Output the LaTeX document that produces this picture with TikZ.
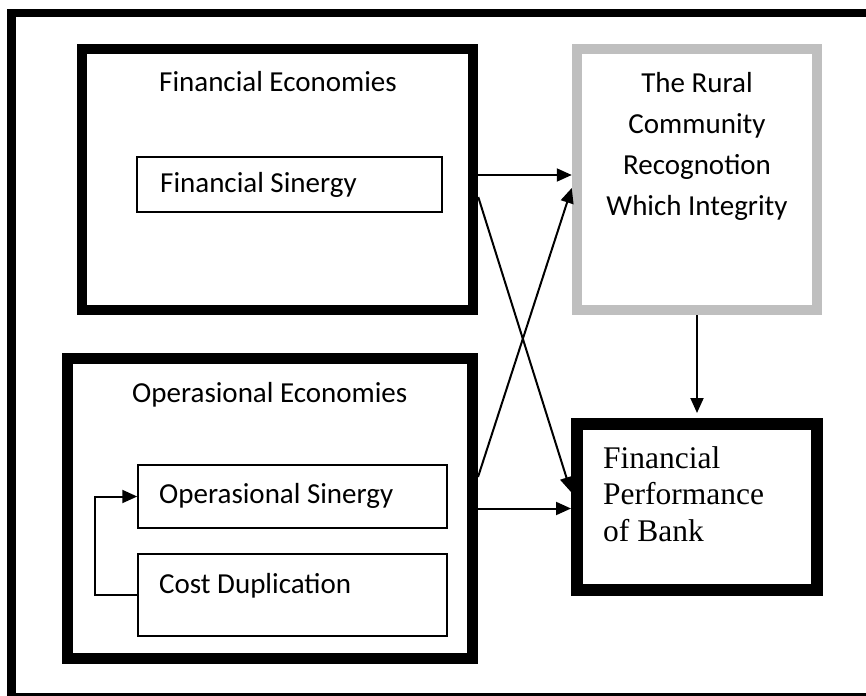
\documentclass[tikz,border=0pt]{standalone}
\usepackage{fontspec}
\setmainfont{Carlito}
\newfontfamily\serifbank{Liberation Serif}
\usetikzlibrary{arrows.meta}
\definecolor{boxgray}{RGB}{191,191,191}

\begin{document}
\begin{tikzpicture}[x=1pt,y=-1pt,
    link/.style={-{Triangle[length=15pt,width=13pt]},line width=2pt},
    block/.style={draw=black,line width=10.5pt,inner sep=0pt},
    item/.style={draw=black,line width=1.5pt,inner sep=0pt},
    txt/.style={inner sep=0pt,font=\fontsize{29}{41}\selectfont},
  ]

  \useasboundingbox (0,0) rectangle (866,695);
  \clip (0,0) rectangle (866,695);
  \draw[line width=8.5pt] (11.5,13) rectangle (890,697);

  % boxes
  \node[block,minimum width=391pt,minimum height=261pt] (finecon) at (277.5,179.5) {};
  \node[block,draw=boxgray,minimum width=240pt,minimum height=261pt] (rural) at (697,179.5) {};
  \node[block,line width=11pt,minimum width=405pt,minimum height=300pt] (opecon) at (270,508.5) {};
  \node[block,line width=12pt,minimum width=240pt,minimum height=166pt] (bank) at (697,507) {};
  \node[item,minimum width=305pt,minimum height=55pt] (finsin) at (289.5,184.5) {};
  \node[item,minimum width=309pt,minimum height=63pt] (opsin) at (292.5,496.5) {};
  \node[item,minimum width=309pt,minimum height=82pt] (costdup) at (292.5,595) {};

  % texts
  \node[txt,anchor=base west] (fineconname) at (159,92) {Financial Economies};
  \node[txt,anchor=base west] (finsinname) at (160,192) {Financial Sinergy};
  \node[txt,anchor=base west] (opeconname) at (132,402) {Operasional Economies};
  \node[txt,anchor=base west] (opsinname) at (159,503) {Operasional Sinergy};
  \node[txt,anchor=base west] (costdupname) at (159,593) {Cost Duplication};
  \node[txt,align=center,anchor=base] (ruralname) at (697,215)
    {The Rural\\Community\\Recognotion\\Which Integrity};
  \node[txt,align=left,anchor=base west,font=\serifbank\fontsize{31.5}{36.5}\selectfont]
    (bankname) at (603,541) {Financial\\Performance\\of Bank};

  % links
  \draw[link] ([yshift=4.5pt]finecon.east) -- ([yshift=4.5pt]rural.west);
  \draw[link] ([yshift=-17.5pt]finecon.east) -- ([yshift=15pt]bank.west);
  \draw[link] ([yshift=31.5pt]opecon.east) -- ([yshift=-8.5pt]rural.west);
  \draw[link] (opecon.east) -- (opecon.east -| bank.west);
  \draw[link,shorten >=5pt] (rural.south) -- (bank.north);
  \draw[link] (costdup.west) -- ++(-42,0) |- (opsin.west);

\end{tikzpicture}
\end{document}
